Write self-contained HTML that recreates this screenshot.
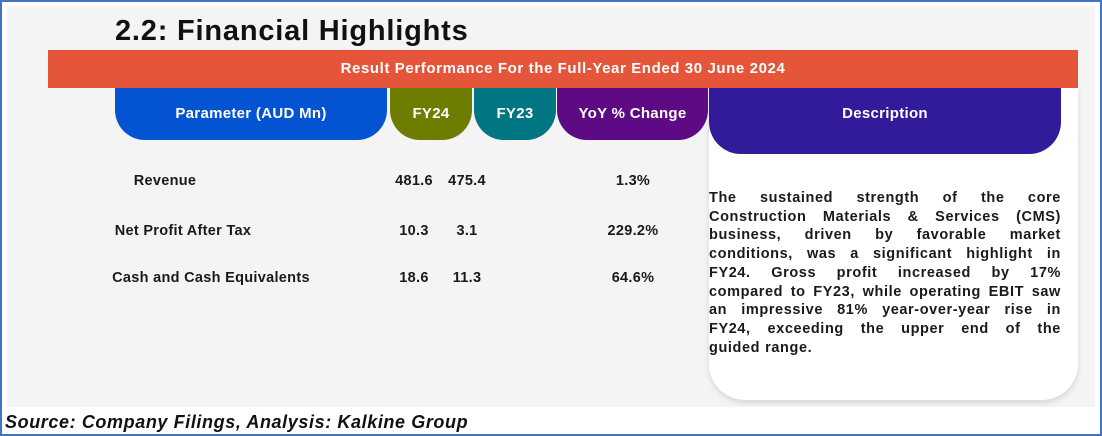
<!DOCTYPE html>
<html><head><meta charset="utf-8"><style>
*{margin:0;padding:0;box-sizing:border-box}
body{width:1102px;height:436px;background:#fff;position:relative;overflow:hidden;font-family:"Liberation Sans",sans-serif}
.abs{position:absolute}
#frame{left:0;top:0;width:1102px;height:436px;border:2px solid #4472c4}
#panel{left:7px;top:6px;width:1088px;height:401px;background:#f4f4f4}
#title{left:115px;top:15px;font-size:29px;font-weight:bold;color:#111;letter-spacing:0.8px}
#banner{left:48px;top:50px;width:1030px;height:38px;background:#e5553a;color:#fff;font-size:15px;font-weight:bold;text-align:center;line-height:38px;letter-spacing:0.6px}
.pill{top:88px;height:52px;color:#fff;font-size:15px;font-weight:bold;text-align:center;line-height:52px;border-radius:0 0 30px 30px;letter-spacing:0.3px}
.cell{font-size:14.5px;font-weight:bold;color:#1a1a1a;text-align:center;width:140px;margin-left:-70px;letter-spacing:0.3px}
#card{left:709px;top:88px;width:369px;height:312px;background:#fff;border-radius:0 0 36px 36px;box-shadow:0 3px 6px rgba(0,0,0,0.12)}
#deschead{left:709px;top:88px;width:352px;height:66px;background:#311b9b;border-radius:0 0 32px 32px;color:#fff;font-size:15px;font-weight:bold;text-align:center;line-height:52px;letter-spacing:0.3px}
#desc{left:709px;top:189px;width:352px;font-size:14.5px;font-weight:bold;color:#1a1a1a;line-height:18.7px;letter-spacing:0.6px}
#desc div{white-space:nowrap;display:flex;justify-content:space-between}
#desc div.last{justify-content:flex-start;gap:5px}
#source{left:5px;top:412px;font-size:18px;font-weight:bold;font-style:italic;color:#111;letter-spacing:0.6px}
</style></head><body>
<div class="abs" id="panel"></div>
<div class="abs" id="frame"></div>
<div class="abs" id="title">2.2: Financial Highlights</div>
<div class="abs" id="banner">Result Performance For the Full-Year Ended 30 June 2024</div>
<div class="abs" id="card"></div>
<div class="abs pill" style="left:115px;width:272px;background:#0453d3">Parameter (AUD Mn)</div>
<div class="abs pill" style="left:390px;width:82px;background:#6e7d00">FY24</div>
<div class="abs pill" style="left:474px;width:82px;background:#007682">FY23</div>
<div class="abs pill" style="left:557px;width:151px;background:#5e0a84">YoY % Change</div>
<div class="abs" id="deschead">Description</div>

<div class="abs cell" style="left:165px;top:173px;width:200px;margin-left:-100px">Revenue</div>
<div class="abs cell" style="left:414px;top:173px">481.6</div>
<div class="abs cell" style="left:467px;top:173px">475.4</div>
<div class="abs cell" style="left:633px;top:173px">1.3%</div>

<div class="abs cell" style="left:183px;top:223px;width:220px;margin-left:-110px">Net Profit After Tax</div>
<div class="abs cell" style="left:414px;top:223px">10.3</div>
<div class="abs cell" style="left:467px;top:223px">3.1</div>
<div class="abs cell" style="left:633px;top:223px">229.2%</div>

<div class="abs cell" style="left:211px;top:270px;width:260px;margin-left:-130px">Cash and Cash Equivalents</div>
<div class="abs cell" style="left:414px;top:270px">18.6</div>
<div class="abs cell" style="left:467px;top:270px">11.3</div>
<div class="abs cell" style="left:633px;top:270px">64.6%</div>

<div class="abs" id="desc">
<div><span>The</span><span>sustained</span><span>strength</span><span>of</span><span>the</span><span>core</span></div>
<div><span>Construction</span><span>Materials</span><span>&amp;</span><span>Services</span><span>(CMS)</span></div>
<div><span>business,</span><span>driven</span><span>by</span><span>favorable</span><span>market</span></div>
<div><span>conditions,</span><span>was</span><span>a</span><span>significant</span><span>highlight</span><span>in</span></div>
<div><span>FY24.</span><span>Gross</span><span>profit</span><span>increased</span><span>by</span><span>17%</span></div>
<div><span>compared</span><span>to</span><span>FY23,</span><span>while</span><span>operating</span><span>EBIT</span><span>saw</span></div>
<div><span>an</span><span>impressive</span><span>81%</span><span>year-over-year</span><span>rise</span><span>in</span></div>
<div><span>FY24,</span><span>exceeding</span><span>the</span><span>upper</span><span>end</span><span>of</span><span>the</span></div>
<div class="last"><span>guided</span><span>range.</span></div>
</div>

<div class="abs" id="source">Source: Company Filings, Analysis: Kalkine Group</div>
</body></html>
